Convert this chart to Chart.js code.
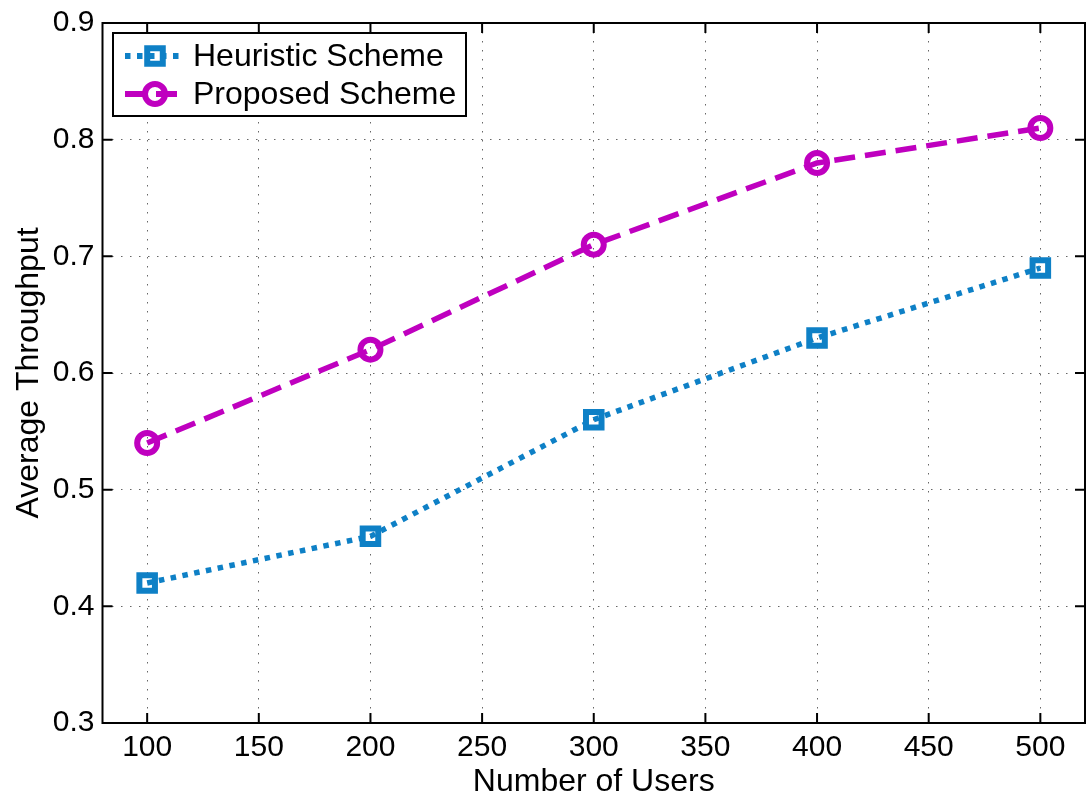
<!DOCTYPE html>
<html lang="en">
<head>
  <meta charset="UTF-8">
  <title>Average Throughput vs Number of Users</title>
  <script src="https://cdn.jsdelivr.net/npm/chart.js"></script>
  <style>
    body { margin: 0; background: #fff; }
    #wrap { width: 1086px; height: 802px; }
  </style>
</head>
<body>
  <div id="wrap"><canvas id="chart" width="1086" height="802"></canvas></div>
  <script>
    const users = [100, 200, 300, 400, 500];
    const heuristic = [0.42, 0.46, 0.56, 0.63, 0.69];
    const proposed = [0.54, 0.62, 0.71, 0.78, 0.81];
    const xTicks = [100, 150, 200, 250, 300, 350, 400, 450, 500];
    const yTicks = [0.3, 0.4, 0.5, 0.6, 0.7, 0.8, 0.9];

    const FONT = "'Liberation Sans', Arial, Helvetica, sans-serif";
    const BLUE = '#0e80c6';
    const MAGENTA = '#bf00bf';

    const series = [
      { label: 'Heuristic Scheme', data: heuristic, color: BLUE, dash: [5.5, 6.5], style: 'rect', radius: 11, width: 6 },
      { label: 'Proposed Scheme', data: proposed, color: MAGENTA, dash: [21, 10], style: 'circle', radius: 10, width: 6 }
    ];

    // box + inward ticks like a matlab axes, and the legend
    const frame = {
      id: 'frame',
      afterDraw(chart) {
        const ctx = chart.ctx;
        const a = chart.chartArea;
        const xs = chart.scales.x, ys = chart.scales.y;
        ctx.save();
        ctx.strokeStyle = '#000';
        ctx.lineWidth = 2;
        ctx.strokeRect(a.left, a.top, a.right - a.left, a.bottom - a.top);
        ctx.beginPath();
        xTicks.forEach(v => {
          const px = xs.getPixelForValue(v);
          ctx.moveTo(px, a.bottom); ctx.lineTo(px, a.bottom - 10);
          ctx.moveTo(px, a.top); ctx.lineTo(px, a.top + 10);
        });
        yTicks.forEach(v => {
          const py = ys.getPixelForValue(v);
          ctx.moveTo(a.left, py); ctx.lineTo(a.left + 10, py);
          ctx.moveTo(a.right, py); ctx.lineTo(a.right - 10, py);
        });
        ctx.stroke();

        // legend
        const lx = 113, ly = 33, lw = 353, lh = 83;
        ctx.fillStyle = '#fff';
        ctx.fillRect(lx, ly, lw, lh);
        ctx.lineWidth = 2;
        ctx.strokeRect(lx, ly, lw, lh);
        ctx.font = '32px ' + FONT;
        ctx.textBaseline = 'middle';
        series.forEach((s, i) => {
          const cy = ly + 23 + i * 38;
          ctx.save();
          ctx.strokeStyle = s.color;
          ctx.lineWidth = s.width;
          ctx.setLineDash(s.dash);
          ctx.beginPath();
          ctx.moveTo(125, cy); ctx.lineTo(184, cy);
          ctx.stroke();
          ctx.restore();
          ctx.save();
          ctx.fillStyle = 'rgba(0,0,0,0)';
          ctx.strokeStyle = s.color;
          ctx.lineWidth = s.width;
          Chart.helpers.drawPoint(ctx, {
            pointStyle: s.style, radius: s.radius, borderWidth: s.width, rotation: 0
          }, 155, cy);
          ctx.restore();
          ctx.fillStyle = '#000';
          ctx.fillText(s.label, 193, cy + 1);
        });
        ctx.restore();
      }
    };

    new Chart(document.getElementById('chart'), {
      type: 'line',
      data: {
        datasets: series.map(s => ({
          label: s.label,
          data: users.map((u, i) => ({ x: u, y: s.data[i] })),
          borderColor: s.color,
          borderWidth: 5.5,
          borderDash: s.dash,
          borderCapStyle: 'butt',
          tension: 0,
          fill: false,
          pointStyle: s.style,
          pointRadius: s.radius,
          pointBorderWidth: s.width,
          pointBorderColor: s.color,
          pointBackgroundColor: 'rgba(0,0,0,0)',
          pointHoverRadius: s.radius
        }))
      },
      options: {
        responsive: false,
        animation: false,
        layout: { autoPadding: false, padding: { top: 23, right: 1, left: 0, bottom: 0 } },
        plugins: { legend: { display: false }, tooltip: { enabled: false } },
        scales: {
          x: {
            type: 'linear',
            min: 80,
            max: 520,
            afterBuildTicks: s => { s.ticks = xTicks.map(v => ({ value: v })); },
            afterFit: s => { s.height = 79; s.paddingLeft = 0; s.paddingRight = 0; },
            ticks: {
              color: '#000',
              font: { family: FONT, size: 30 },
              padding: 7,
              maxRotation: 0,
              callback: v => String(v)
            },
            grid: { color: '#666', lineWidth: 1, drawTicks: false },
            border: { display: false, dash: [1.5, 7.5] },
            title: {
              display: true,
              text: 'Number of Users',
              color: '#000',
              font: { family: FONT, size: 32 },
              padding: { top: 0, bottom: 1 }
            }
          },
          y: {
            min: 0.3,
            max: 0.9,
            afterBuildTicks: s => { s.ticks = yTicks.map(v => ({ value: v })); },
            afterFit: s => { s.width = 102.5; s.paddingTop = 0; s.paddingBottom = 0; },
            ticks: {
              color: '#000',
              font: { family: FONT, size: 30 },
              padding: 8,
              callback: v => v.toFixed(1)
            },
            grid: { color: '#666', lineWidth: 1, drawTicks: false },
            border: { display: false, dash: [1.5, 7.5] },
            title: {
              display: true,
              text: 'Average Throughput',
              color: '#000',
              font: { family: FONT, size: 32 },
              padding: { top: 10, bottom: 0 }
            }
          }
        }
      },
      plugins: [frame]
    });
  </script>
</body>
</html>
